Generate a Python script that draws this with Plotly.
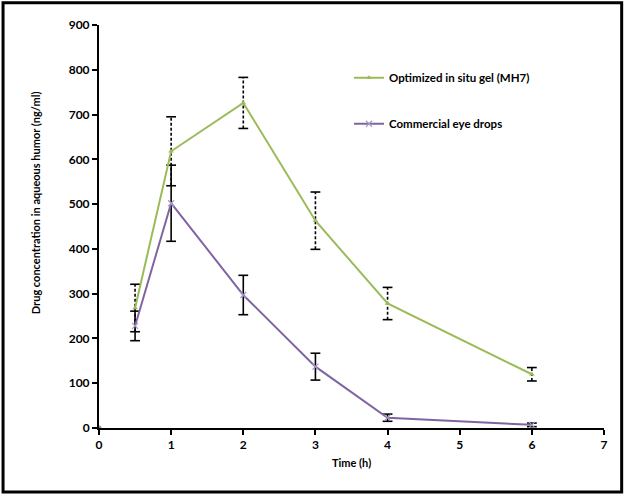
import plotly.graph_objects as go

time_h = [0, 0.5, 1, 2, 3, 4, 6]
gel_mean = [0, 268, 618, 726, 463, 278, 120]
gel_err = [0, 53, 77, 57, 64, 36, 15]
drops_mean = [0, 228, 502, 297, 137, 23, 7]
drops_err = [0, 33, 85, 44, 30, 8, 4]

series_names = ["Optimized in situ gel (MH7)", "Commercial eye drops"]
x_ticks = [0, 1, 2, 3, 4, 5, 6, 7]
y_ticks = [0, 100, 200, 300, 400, 500, 600, 700, 800, 900]

GREEN = "#9BBB59"
PURPLE = "#8064A2"
FONT = "Lato"

fig = go.Figure()


def err_traces(x, m, e, dash):
    xs, ys, cx, cy = [], [], [], []
    for xi, mi, ei in zip(x, m, e):
        if ei <= 0:
            continue
        xs += [xi, xi, None]
        ys += [mi - ei, mi + ei, None]
        cx += [xi, xi]
        cy += [mi - ei, mi + ei]
    fig.add_trace(go.Scatter(x=xs, y=ys, mode="lines", showlegend=False, hoverinfo="skip",
                             line=dict(color="black", width=1.6, dash=dash)))
    fig.add_trace(go.Scatter(x=cx, y=cy, mode="markers", showlegend=False, hoverinfo="skip",
                             marker=dict(symbol="line-ew", size=7,
                                         line=dict(color="black", width=1.6))))


err_traces(time_h[1:], gel_mean[1:], gel_err[1:], "3px,2px")
err_traces(time_h[1:], drops_mean[1:], drops_err[1:], "solid")

fig.add_trace(go.Scatter(x=time_h[1:], y=gel_mean[1:], mode="lines+markers",
                         name=series_names[0], legendgroup="g",
                         line=dict(color=GREEN, width=2),
                         marker=dict(symbol="triangle-up", size=5, color=GREEN)))
fig.add_trace(go.Scatter(x=time_h[1:], y=drops_mean[1:], mode="lines+markers",
                         name=series_names[1], legendgroup="d",
                         line=dict(color=PURPLE, width=2),
                         marker=dict(symbol="x-thin", size=6,
                                     line=dict(color="#A99BC4", width=1.2))))
# origin point
fig.add_trace(go.Scatter(x=time_h[:1], y=gel_mean[:1], mode="markers", showlegend=False,
                         hoverinfo="skip", marker=dict(symbol="circle", size=5, color="#8A9A6A")))

axis_common = dict(showline=True, linecolor="black", linewidth=2, ticks="outside",
                   ticklen=5, tickwidth=2, tickcolor="black", showgrid=False, zeroline=False,
                   tickfont=dict(family=FONT, size=12, color="black", weight="bold"))

fig.update_xaxes(range=[0, 7], tickvals=x_ticks, **axis_common)
fig.update_yaxes(range=[0, 900], tickvals=y_ticks, **axis_common)

fig.update_layout(
    width=625, height=496,
    margin=dict(l=99, r=21, t=25, b=68),
    plot_bgcolor="white", paper_bgcolor="white",
    legend=dict(x=0.495, y=0.905, xanchor="left", yanchor="top",
                bgcolor="rgba(0,0,0,0)", tracegroupgap=27, itemwidth=30,
                font=dict(family=FONT, size=11.5, color="black", weight="bold")),
    annotations=[
        dict(text="Time (h)", xref="paper", yref="paper", x=0.5, y=-0.085,
             xanchor="center", yanchor="middle", showarrow=False,
             font=dict(family=FONT, size=11, color="black", weight="bold")),
        dict(text="Drug concentration in aqueous humor (ng/ml)", xref="paper", yref="paper",
             x=-0.127, y=0.56, textangle=-90, xanchor="center", yanchor="middle",
             showarrow=False, font=dict(family=FONT, size=11, color="black", weight="bold")),
    ],
    shapes=[dict(type="rect", xref="paper", yref="paper", x0=-0.19, x1=1.035,
                 y0=-0.159, y1=1.055, line=dict(color="black", width=3))],
)

fig.write_html("out.html", config={"displayModeBar": False},
               post_script="document.body.style.margin='0';")
